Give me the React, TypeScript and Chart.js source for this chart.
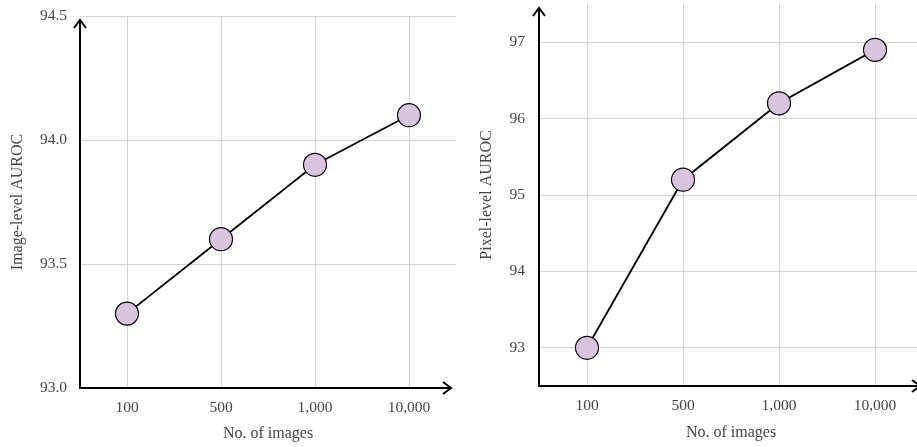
import React, { useEffect, useRef } from "react";
import { Chart, registerables } from "chart.js";

Chart.register(...registerables);

const categories = ["100", "500", "1,000", "10,000"];
const imageAuroc = [93.3, 93.6, 93.9, 94.1];
const pixelAuroc = [93.0, 95.2, 96.2, 96.9];
const imageTicks = [93.0, 93.5, 94.0, 94.5];
const pixelTicks = [93, 94, 95, 96, 97];

const FONT = "'Liberation Serif', 'DejaVu Serif', serif";
const TEXT = "#444";
const GRID = "#d4d4d4";
const FILL = "#d9c4e0";

const arrowPlugin = {
  id: "arrowAxes",
  afterDraw(chart: any, _args: any, opts: any) {
    const { ctx, chartArea } = chart;
    const { left, right, top, bottom } = chartArea;
    const yTip = top + (opts.yTip ?? 4);
    const xTip = right - (opts.xTip ?? 4);
    ctx.save();
    ctx.strokeStyle = "#000";
    ctx.lineWidth = 2;
    ctx.lineCap = "butt";
    ctx.beginPath();
    ctx.moveTo(left, bottom + 1);
    ctx.lineTo(left, yTip);
    ctx.moveTo(left - 1, bottom);
    ctx.lineTo(xTip, bottom);
    ctx.stroke();
    ctx.lineJoin = "miter";
    ctx.beginPath();
    ctx.moveTo(left - 6, yTip + 8);
    ctx.lineTo(left, yTip);
    ctx.lineTo(left + 6, yTip + 8);
    ctx.moveTo(xTip - 8, bottom - 6);
    ctx.lineTo(xTip, bottom);
    ctx.lineTo(xTip - 8, bottom + 6);
    ctx.stroke();
    ctx.restore();
  },
};

type PanelProps = {
  values: number[];
  ticks: number[];
  min: number;
  max: number;
  yTitle: string;
  digits: number;
  width: number;
  yWidth: number;
  xHeight: number;
  padTop: number;
  padRight: number;
  yTitlePad: number;
  yTickPad: number;
  xTitlePad: number;
  yTip: number;
  xTip: number;
};

function Panel(p: PanelProps) {
  const ref = useRef<HTMLCanvasElement | null>(null);
  useEffect(() => {
    if (!ref.current) return;
    const chart = new Chart(ref.current, {
      type: "line",
      data: {
        labels: categories,
        datasets: [
          {
            data: p.values,
            borderColor: "#000",
            borderWidth: 1.8,
            pointRadius: 11.5,
            pointHoverRadius: 11.5,
            pointBackgroundColor: FILL,
            pointBorderColor: "#000",
            pointBorderWidth: 1.2,
            tension: 0,
            clip: false as any,
          },
        ],
      },
      options: {
        responsive: false,
        animation: false,
        events: [],
        layout: {
          autoPadding: false,
          padding: { top: p.padTop, right: p.padRight, left: 0, bottom: 0 },
        },
        plugins: {
          legend: { display: false },
          tooltip: { enabled: false },
          arrowAxes: { yTip: p.yTip, xTip: p.xTip },
        } as any,
        scales: {
          x: {
            type: "category",
            offset: true,
            grid: { offset: false, color: GRID, lineWidth: 1, drawTicks: false },
            border: { display: false },
            ticks: { color: TEXT, font: { family: FONT, size: 15.5 }, padding: 11, maxRotation: 0 },
            title: {
              display: true,
              text: "No. of images",
              color: TEXT,
              font: { family: FONT, size: 16 },
              padding: { top: 0, bottom: p.xTitlePad },
            },
            afterFit: (s: any) => {
              s.height = p.xHeight;
              s.paddingLeft = 0;
              s.paddingRight = 0;
              s.paddingTop = 0;
              s.paddingBottom = 0;
            },
          },
          y: {
            type: "linear",
            min: p.min,
            max: p.max,
            grid: { color: GRID, lineWidth: 1, drawTicks: false },
            border: { display: false },
            afterBuildTicks: (s: any) => {
              s.ticks = p.ticks.map((v) => ({ value: v }));
            },
            ticks: {
              color: TEXT,
              font: { family: FONT, size: 15.5 },
              padding: p.yTickPad,
              callback: (v: any) => Number(v).toFixed(p.digits),
            },
            title: {
              display: true,
              text: p.yTitle,
              color: TEXT,
              font: { family: FONT, size: 16 },
              padding: { top: p.yTitlePad, bottom: 0 },
            },
            afterFit: (s: any) => {
              s.width = p.yWidth;
              s.paddingLeft = 0;
              s.paddingRight = 0;
              s.paddingTop = 0;
              s.paddingBottom = 0;
            },
          },
        },
      },
      plugins: [arrowPlugin],
    });
    return () => chart.destroy();
  }, []);
  return <canvas ref={ref} width={p.width} height={447} style={{ display: "block" }} />;
}

export default function App() {
  return (
    <div
      style={{
        position: "fixed",
        left: 0,
        top: 0,
        width: 917,
        height: 447,
        overflow: "hidden",
        background: "#fff",
      }}
    >
      <div style={{ position: "absolute", left: 0, top: 0 }}>
        <Panel
          values={imageAuroc}
          ticks={imageTicks}
          min={93.0}
          max={94.5}
          digits={1}
          yTitle="Image-level AUROC"
          width={460}
          yWidth={80}
          xHeight={59}
          padTop={16}
          padRight={4}
          yTitlePad={8}
          yTickPad={13}
          xTitlePad={4}
          yTip={4}
          xTip={5}
        />
      </div>
      <div style={{ position: "absolute", left: 460, top: 0 }}>
        <Panel
          values={pixelAuroc}
          ticks={pixelTicks}
          min={92.5}
          max={97.5}
          digits={0}
          yTitle="Pixel-level AUROC"
          width={463}
          yWidth={79}
          xHeight={61}
          padTop={4}
          padRight={0}
          yTitlePad={17}
          yTickPad={14}
          xTitlePad={5}
          yTip={4}
          xTip={3}
        />
      </div>
    </div>
  );
}
